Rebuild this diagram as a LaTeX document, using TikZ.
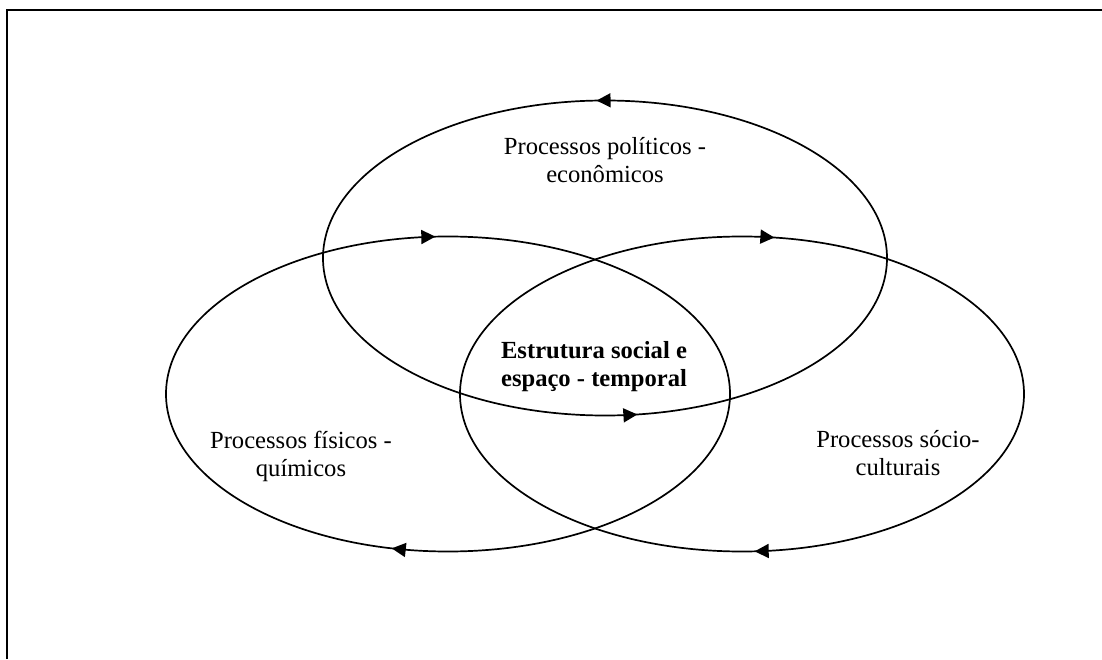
\documentclass[tikz,border=0pt]{standalone}
\usepackage{fontspec}
\setmainfont{Liberation Serif}
\usetikzlibrary{arrows.meta,decorations.markings}

\tikzset{
  ring/.style={line width=1.7pt},
  ccw/.style 2 args={postaction={decorate},decoration={markings,
      mark=at position #1 with {\arrow{Triangle[length=14pt,width=14pt]}},
      mark=at position #2 with {\arrow{Triangle[length=14pt,width=14pt]}}}},
  cw/.style 2 args={postaction={decorate},decoration={markings,
      mark=at position #1 with {\arrowreversed{Triangle[length=14pt,width=14pt]}},
      mark=at position #2 with {\arrowreversed{Triangle[length=14pt,width=14pt]}}}},
}

\begin{document}
\begin{tikzpicture}[x=1pt,y=1pt]
        \useasboundingbox (0,0) rectangle (1102,659);
        \draw[line width=2pt] (7,0) -- (7,649) -- (1102,649);

        \draw[ring,ccw={0.256}{0.773}] (605,401) ellipse [x radius=282pt, y radius=157.5pt];
        \draw[ring,cw={0.259}{0.710}] (448,265) ellipse [x radius=282pt, y radius=157.5pt];
        \draw[ring,cw={0.227}{0.759}] (742,265) ellipse [x radius=282pt, y radius=157.5pt];

        \begin{scope}[every node/.style={align=center,font=\fontsize{24.6}{28}\selectfont}]
            \node (pol) at (605,499) {Processos políticos -\\econômicos};
            \node[font=\fontsize{24.6}{28}\selectfont\bfseries] (est) at (594,292) {Estrutura social e\\espaço - temporal};
            \node (fis) at (301,203) {Processos físicos -\\químicos};
            \node (soc) at (898,206) {Processos sócio-\\culturais};
        \end{scope}
\end{tikzpicture}
\end{document}
